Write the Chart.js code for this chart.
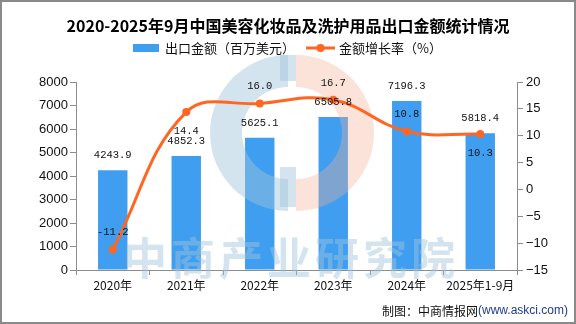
<!DOCTYPE html>
<html>
<head>
<meta charset="utf-8">
<script src="https://cdn.jsdelivr.net/npm/chart.js@4.4.1/dist/chart.umd.min.js"></script>
<style>
  html, body { margin: 0; padding: 0; background: #fff; }
  #wrap { width: 576px; height: 324px; position: relative; }
</style>
</head>
<body>
<div id="wrap"><canvas id="chart" width="576" height="324"></canvas></div>
<script>
const categories = ['2020年', '2021年', '2022年', '2023年', '2024年', '2025年1-9月'];
const exportValues = [4243.9, 4852.3, 5625.1, 6505.8, 7196.3, 5818.4];
const growthRates = [-11.2, 14.4, 16.0, 16.7, 10.8, 10.3];

const titleText = '2020-2025年9月中国美容化妆品及洗护用品出口金额统计情况';
const barLabel = '出口金额（百万美元）';
const lineLabel = '金额增长率（%）';

const BAR_COLOR = '#409EF1';
const LINE_COLOR = '#FF6622';
const AXIS_COLOR = '#8c8c8c';
const CJK = '"Noto Sans CJK SC", "Noto Sans", sans-serif';

// where the growth label sits relative to its point
const growthLabelSide = ['up', 'down', 'up', 'up', 'up', 'down'];

// watermark drawn right after the bars, under the line
const watermark = {
	id: 'watermark',
	afterDatasetDraw(chart, args) {
		if (args.index !== 1) return;
		const ctx = chart.ctx;
		ctx.save();
		const cx = 288, cy = 133;
		ctx.fillStyle = 'rgba(160, 195, 220, 0.45)';
		ctx.beginPath();
		ctx.arc(cx, cy, 78, Math.PI / 2, Math.PI * 1.5);
		ctx.arc(cx, cy, 46, Math.PI * 1.5, Math.PI / 2, true);
		ctx.closePath();
		ctx.fill();
		ctx.fillRect(cx - 8, cy - 78, 16, 26);
		ctx.fillRect(cx - 8, cy + 34, 16, 40);

		ctx.fillStyle = 'rgba(245, 175, 145, 0.35)';
		ctx.beginPath();
		ctx.arc(cx + 8, cy, 78, -Math.PI / 2, Math.PI / 2);
		ctx.arc(cx + 8, cy, 46, Math.PI / 2, -Math.PI / 2, true);
		ctx.closePath();
		ctx.fill();

		ctx.fillStyle = 'rgba(160, 195, 220, 0.45)';
		ctx.font = 'bold 44px ' + CJK;
		ctx.textAlign = 'center';
		ctx.textBaseline = 'middle';
		const chars = '中商产业研究院'.split('');
		chars.forEach((c, i) => ctx.fillText(c, 145 + i * 48, 258));
		ctx.restore();
	}
};

const valueLabels = {
	id: 'valueLabels',
	afterDatasetsDraw(chart) {
		const ctx = chart.ctx;
		ctx.save();
		ctx.font = '10.5px "Liberation Mono", "DejaVu Sans Mono", monospace';
		ctx.fillStyle = '#111';
		ctx.textAlign = 'center';
		ctx.textBaseline = 'middle';

		const barMeta = chart.getDatasetMeta(1);
		barMeta.data.forEach((bar, i) => {
			ctx.fillText(exportValues[i].toFixed(1), bar.x, bar.y - 15);
		});

		const lineMeta = chart.getDatasetMeta(0);
		lineMeta.data.forEach((pt, i) => {
			const dy = growthLabelSide[i] === 'up' ? -17 : 19;
			ctx.fillText(growthRates[i].toFixed(1), pt.x, pt.y + dy);
		});
		ctx.restore();
	}
};

const decorations = {
	id: 'decorations',
	afterDraw(chart) {
		const ctx = chart.ctx;
		ctx.save();

		// title
		ctx.fillStyle = '#000';
		ctx.font = 'bold 16px ' + CJK;
		ctx.textAlign = 'center';
		ctx.textBaseline = 'middle';
		ctx.fillText(titleText, 288, 26);

		// legend
		ctx.textAlign = 'left';
		ctx.font = '13px ' + CJK;
		ctx.fillStyle = BAR_COLOR;
		ctx.fillRect(133, 44, 26, 8);
		ctx.fillStyle = '#111';
		ctx.fillText(barLabel, 165, 48);

		ctx.strokeStyle = LINE_COLOR;
		ctx.lineWidth = 3;
		ctx.beginPath();
		ctx.moveTo(306, 48);
		ctx.lineTo(335, 48);
		ctx.stroke();
		ctx.fillStyle = LINE_COLOR;
		ctx.beginPath();
		ctx.arc(320.5, 48, 4, 0, Math.PI * 2);
		ctx.fill();
		ctx.fillStyle = '#111';
		ctx.fillText(lineLabel, 339, 48);

		// source
		ctx.textAlign = 'right';
		ctx.font = '12px "Liberation Sans", Arial, sans-serif';
		ctx.fillStyle = '#1f3c8c';
		const src = '(www.askci.com)';
		ctx.fillText(src, 568, 311);
		const w = ctx.measureText(src).width;
		ctx.font = '12px ' + CJK;
		ctx.fillStyle = '#111';
		ctx.fillText('制图：中商情报网', 568 - w, 311);

		// frame
		ctx.strokeStyle = '#8a8a8a';
		ctx.lineWidth = 2;
		ctx.strokeRect(1, 1, 574, 322);
		ctx.restore();
	}
};

const tickFont = { family: '"Liberation Sans", Arial, sans-serif', size: 13 };

new Chart(document.getElementById('chart'), {
	data: {
		labels: categories,
		datasets: [
			{
				type: 'line',
				label: lineLabel,
				data: growthRates,
				yAxisID: 'y2',
				borderColor: LINE_COLOR,
				backgroundColor: LINE_COLOR,
				borderWidth: 3,
				tension: 0.4,
				pointRadius: 4,
				pointBackgroundColor: LINE_COLOR,
				pointBorderWidth: 0,
				order: 0
			},
			{
				type: 'bar',
				label: barLabel,
				data: exportValues,
				yAxisID: 'y',
				backgroundColor: BAR_COLOR,
				barPercentage: 0.4,
				categoryPercentage: 1.0,
				order: 1
			}
		]
	},
	options: {
		responsive: false,
		animation: false,
		layout: { padding: { top: 82, left: 0, right: 0, bottom: 0 } },
		plugins: {
			legend: { display: false },
			title: { display: false },
			tooltip: { enabled: false }
		},
		scales: {
			x: {
				offset: true,
				grid: { offset: true, drawOnChartArea: false, tickLength: 5, color: AXIS_COLOR },
				border: { color: AXIS_COLOR },
				ticks: { font: { family: CJK, size: 12 }, color: '#111', padding: 3, maxRotation: 0, autoSkip: false },
				afterFit: s => { s.height = 54; }
			},
			y: {
				position: 'left',
				min: 0,
				max: 8000,
				ticks: { stepSize: 1000, font: tickFont, color: '#111', padding: 2, callback: v => String(v) },
				grid: { drawOnChartArea: false, tickLength: 6, color: AXIS_COLOR },
				border: { color: AXIS_COLOR },
				afterFit: s => { s.width = 76; }
			},
			y2: {
				position: 'right',
				min: -15,
				max: 20,
				ticks: {
					stepSize: 5,
					font: tickFont,
					color: '#111',
					padding: 3,
					callback: v => (v < 0 ? '\u2212' + Math.abs(v) : String(v))
				},
				grid: { drawOnChartArea: false, tickLength: 6, color: AXIS_COLOR },
				border: { color: AXIS_COLOR },
				afterFit: s => { s.width = 59; }
			}
		}
	},
	plugins: [watermark, valueLabels, decorations]
});
</script>
</body>
</html>
